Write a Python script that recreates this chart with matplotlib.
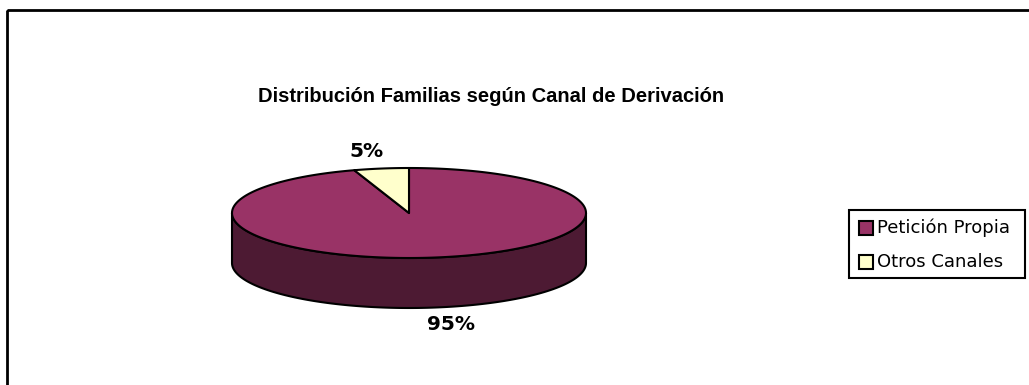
import numpy as np
import matplotlib
matplotlib.use("Agg")
import matplotlib.pyplot as plt
from matplotlib.patches import Polygon, Rectangle

# chart data
labels = ["Petición Propia", "Otros Canales"]
values = [95, 5]
colors = ["#993366", "#FFFFCC"]
title = "Distribución Familias según Canal de Derivación"

W, H = 1029, 385
fig = plt.figure(figsize=(W / 100, H / 100), dpi=100)
ax = fig.add_axes([0, 0, 1, 1])
ax.set_xlim(0, W)
ax.set_ylim(H, 0)
ax.axis("off")

# outer chart frame (right/bottom edges fall outside the canvas)
ax.add_patch(Rectangle((7, 10), 1040, 400, fill=False, lw=2, ec="black"))

ax.text(491, 102, title, ha="center", va="baseline",
        fontsize=14.5, fontweight="bold", family="Liberation Sans")

# 3D pie geometry (pixel units)
cx, cy = 409, 213
a, b = 177, 45
depth = 50


def rim(theta):
    # theta measured clockwise from 12 o'clock
    return cx + a * np.sin(theta), cy - b * np.cos(theta)


def darken(hexcol, f=0.5):
    r, g, bl = matplotlib.colors.to_rgb(hexcol)
    return (r * f, g * f, bl * f)


total = float(sum(values))
bounds = np.concatenate([[0], np.cumsum(values) / total * 2 * np.pi])

# side walls, only the front half (pi/2 .. 3pi/2) is visible
for i, col in enumerate(colors):
    t0 = max(bounds[i], np.pi / 2)
    t1 = min(bounds[i + 1], 3 * np.pi / 2)
    if t1 <= t0:
        continue
    t = np.linspace(t0, t1, 200)
    xs, ys = rim(t)
    pts = np.column_stack([np.r_[xs, xs[::-1]], np.r_[ys, ys[::-1] + depth]])
    ax.add_patch(Polygon(pts, closed=True, fc=darken(col), ec="black",
                         lw=1.5, joinstyle="round"))

# top faces
for i, col in enumerate(colors):
    t = np.linspace(bounds[i], bounds[i + 1], 400)
    xs, ys = rim(t)
    pts = np.column_stack([np.r_[cx, xs], np.r_[cy, ys]])
    ax.add_patch(Polygon(pts, closed=True, fc=col, ec="black",
                         lw=1.5, joinstyle="round"))

# percentage labels outside the slices
for i in range(len(values)):
    mid = (bounds[i] + bounds[i + 1]) / 2
    lx = cx + 1.52 * a * np.sin(mid)
    ly = cy - 1.38 * b * np.cos(mid)
    if np.cos(mid) < 0:
        ly += depth
    ax.text(lx, ly, f"{values[i] / total:.0%}", ha="center", va="center",
            fontsize=14.5, fontweight="bold", family="DejaVu Sans")

# legend
ax.add_patch(Rectangle((849, 210), 176, 68, fill=False, lw=1.5, ec="black"))
for k, (lab, col) in enumerate(zip(labels, colors)):
    yc = 228 + 34 * k
    ax.add_patch(Rectangle((859, yc - 7), 14, 14, fc=col, ec="black", lw=1.5))
    ax.text(877, yc, lab, ha="left", va="center", fontsize=13,
            family="DejaVu Sans")

fig.savefig("out.png", dpi=100)
